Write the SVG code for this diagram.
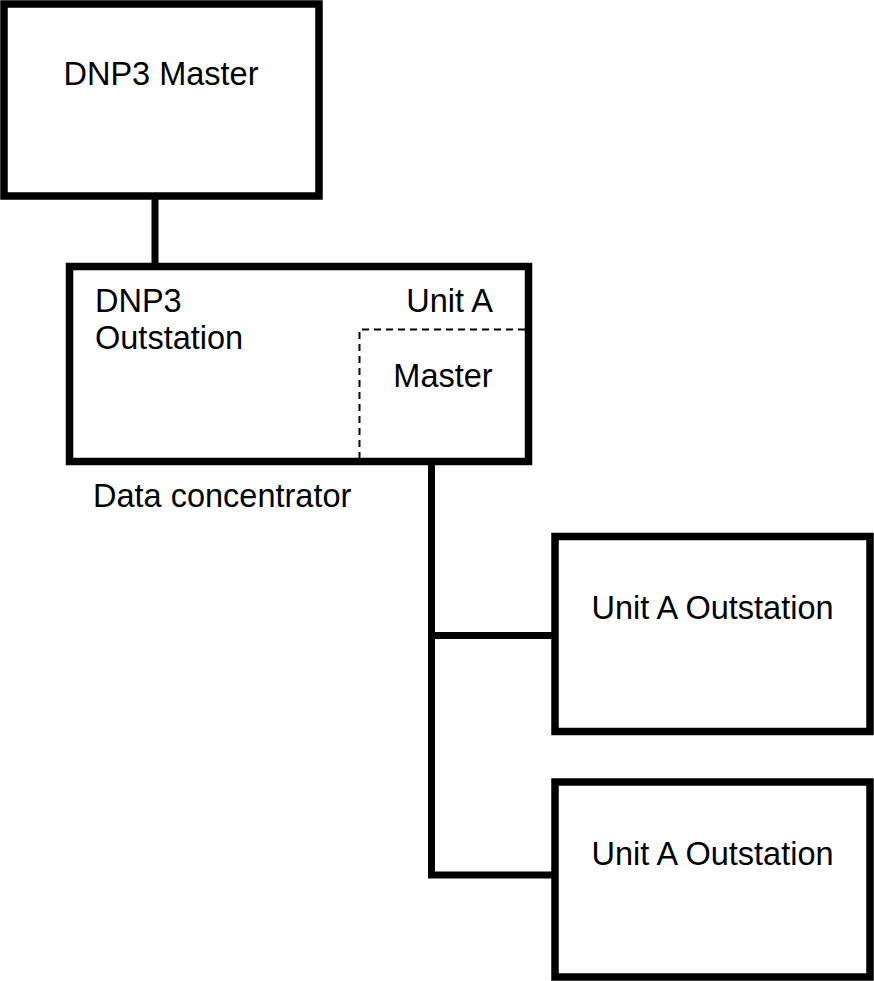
<svg xmlns="http://www.w3.org/2000/svg" width="874" height="981" viewBox="0 0 874 981">
<style>
.box{fill:#fff;stroke:#000;stroke-width:7.5}
.lbl{font-family:"Liberation Sans",Arial,sans-serif;font-size:32.5px;fill:#000}
.wire{fill:none;stroke:#000;stroke-width:7;stroke-linecap:square}
.dash{fill:none;stroke:#000;stroke-width:2;stroke-dasharray:7 5}
</style>
<rect width="874" height="981" fill="#fff"/>
<g id="connectors">
<line class="wire" x1="155" y1="196" x2="155" y2="266"/>
<polyline class="wire" points="431.5,462 431.5,875 555,875"/>
<line class="wire" x1="431.5" y1="635.5" x2="555" y2="635.5"/>
</g>
<g id="dnp3-master">
<rect class="box" x="4" y="4" width="315" height="192"/>
<text class="lbl" x="161" y="85" text-anchor="middle">DNP3 Master</text>
</g>
<g id="data-concentrator">
<rect class="box" x="69.5" y="266.5" width="459" height="195"/>
<text class="lbl" x="95" y="312">DNP3</text>
<text class="lbl" x="95" y="349">Outstation</text>
<text class="lbl" x="493" y="312" text-anchor="end">Unit A</text>
<polyline class="dash" points="525,329.5 359.5,329.5 359.5,462"/>
<text class="lbl" x="443" y="387" text-anchor="middle">Master</text>
<text class="lbl" x="93" y="507">Data concentrator</text>
</g>
<g id="unit-a-outstation-1">
<rect class="box" x="555" y="536.5" width="315" height="195"/>
<text class="lbl" x="712.5" y="619" text-anchor="middle">Unit A Outstation</text>
</g>
<g id="unit-a-outstation-2">
<rect class="box" x="555" y="782" width="315" height="195"/>
<text class="lbl" x="712.5" y="865" text-anchor="middle">Unit A Outstation</text>
</g>
</svg>
